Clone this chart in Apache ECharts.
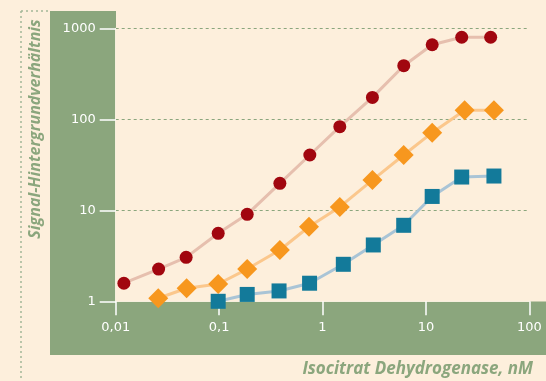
<!DOCTYPE html>
<html>
<head>
<meta charset="utf-8">
<script src="https://cdn.jsdelivr.net/npm/echarts@6/dist/echarts.min.js"></script>
<style>
  html, body { margin: 0; padding: 0; background: #fdefdc; }
  #chart { width: 546px; height: 381px; }
</style>
</head>
<body>
<div id="chart"></div>
<script>
'use strict'

// Isocitrat Dehydrogenase (nM) gegen Signal/Hintergrund
var xTickLabels = ['0,01', '0,1', '1', '10', '100'];
var yTickLabels = ['1', '10', '100', '1000'];

var redX = [0.012, 0.026, 0.048, 0.098, 0.187, 0.387, 0.754, 1.47, 3.04, 6.11, 11.5, 22.2, 42.3];
var redY = [1.58, 2.26, 3.04, 5.59, 9.04, 19.8, 40.5, 82.9, 174, 388, 660, 797, 797];

var orangeX = [0.0258, 0.0485, 0.098, 0.187, 0.387, 0.74, 1.47, 3.04, 6.1, 11.5, 23.7, 45.5];
var orangeY = [1.08, 1.39, 1.55, 2.26, 3.66, 6.6, 10.9, 21.5, 40.5, 71.3, 126, 126];

var blueX = [0.098, 0.187, 0.38, 0.75, 1.59, 3.1, 6.1, 11.5, 22.2, 45.5];
var blueY = [1.0, 1.19, 1.30, 1.58, 2.55, 4.16, 6.84, 14.2, 23.2, 23.8];

var green = '#8ba67d';
var labelFont = 'DejaVu Sans';

function pairs(xs, ys) {
    return xs.map(function (x, i) { return [x, ys[i]]; });
}

function tickText(list, value) {
    var i = Math.round(Math.log10(value) - Math.log10(parseFloat(list[0].replace(',', '.'))));
    return list[i] !== undefined ? list[i] : '';
}

function lineSeries(name, xs, ys, symbol, size, markColor, lineColor) {
    return {
        name: name,
        type: 'line',
        data: pairs(xs, ys),
        symbol: symbol,
        symbolSize: size,
        clip: false,
        itemStyle: { color: markColor },
        lineStyle: { color: lineColor, width: 3 },
        emphasis: { disabled: true },
        z: 3
    };
}

var chart = echarts.init(document.getElementById('chart'));
chart.setOption({
    backgroundColor: '#fdefdc',
    animation: false,
    grid: { left: 115.7, right: 16.7, top: 28.3, bottom: 79.7 },
    graphic: [
        { type: 'rect', z: -10, shape: { x: 50, y: 11, width: 66, height: 344 }, style: { fill: green } },
        { type: 'rect', z: -10, shape: { x: 50, y: 301.5, width: 496, height: 53.5 }, style: { fill: green } },
        { type: 'line', z: -10, shape: { x1: 21, y1: 11, x2: 21, y2: 381 },
          style: { stroke: '#a3b898', lineWidth: 1.5, lineDash: [2, 3] } },
        { type: 'line', z: -10, shape: { x1: 21, y1: 11, x2: 50, y2: 11 },
          style: { stroke: '#a3b898', lineWidth: 1.5, lineDash: [2, 3] } },
        { type: 'text', rotation: Math.PI / 2, x: 35, y: 129,
          style: { text: 'Signal-Hintergrundverhältnis', fill: green, font: 'italic bold 16px "Open Sans"',
                   align: 'center', verticalAlign: 'middle' } },
        { type: 'text', x: 533, y: 369,
          style: { text: 'Isocitrat Dehydrogenase, nM', fill: green, font: 'italic bold 17px "Open Sans"',
                   align: 'right', verticalAlign: 'middle' } }
    ],
    xAxis: {
        type: 'log',
        logBase: 10,
        min: 0.01,
        max: 100,
        axisLine: { show: true, lineStyle: { color: '#f6efdd', width: 1 } },
        axisTick: { show: true, inside: false, length: 14, lineStyle: { color: '#ffffff', width: 1.5 } },
        axisLabel: {
            color: '#ffffff', fontFamily: labelFont, fontSize: 13, margin: 20,
            formatter: function (v) { return tickText(xTickLabels, v); }
        },
        splitLine: { show: false },
        minorTick: { show: false }
    },
    yAxis: {
        type: 'log',
        logBase: 10,
        min: 1,
        max: 1000,
        axisLine: { show: true, lineStyle: { color: '#f6efdd', width: 1 } },
        axisTick: { show: true, inside: false, length: 16, lineStyle: { color: '#ffffff', width: 1.5 } },
        axisLabel: {
            color: '#ffffff', fontFamily: labelFont, fontSize: 13, margin: 20,
            formatter: function (v) { return tickText(yTickLabels, v); }
        },
        splitLine: { show: true, lineStyle: { color: green, type: [3, 3], width: 1 } }
    },
    series: [
        lineSeries('rot', redX, redY, 'circle', 13, '#a1060f', '#e6bfae'),
        lineSeries('orange', orangeX, orangeY, 'diamond', 20, '#f7971e', '#fbc78c'),
        lineSeries('blau', blueX, blueY, 'rect', 15, '#137a9a', '#a9c4d6')
    ]
});
</script>
</body>
</html>
